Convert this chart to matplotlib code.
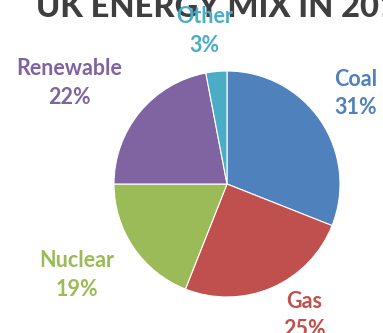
import numpy as np
import matplotlib
matplotlib.use("Agg")
import matplotlib.pyplot as plt

# Dane wykresu
sources = ["Coal", "Gas", "Nuclear", "Renewable", "Other"]
shares = [31, 25, 19, 22, 3]
colors = ["#4F81BD", "#C0504D", "#9BBB59", "#8064A2", "#4BACC6"]
title = "UK ENERGY MIX IN 2014"

# Odległość etykiet od środka (w promieniach) i drobna korekta kąta
label_dist = [1.39, 1.35, 1.55, 1.66, 1.37]
label_shift = [1, 7, -3, 7, 3]

W, H = 383, 333
cx, cy, r = 227, 149, 113  # środek koła w pikselach (od dołu)

fig = plt.figure(figsize=(W / 100, H / 100), dpi=100)
ax = fig.add_axes([0, 0, 1, 1])

wedges, _ = ax.pie(shares, colors=colors, startangle=90, counterclock=False,
                   radius=1, wedgeprops=dict(edgecolor="white", linewidth=0.8))

ax.set_xlim(-cx / r, (W - cx) / r)
ax.set_ylim(-cy / r, (H - cy) / r)
ax.set_aspect("auto")
ax.axis("off")

font = ["Lato", "DejaVu Sans"]

# Tytuł pod etykietami (etykieta "Other" nachodzi na niego)
ax.text((cx - 1) / W, (H - 17) / H, title, transform=fig.transFigure,
        ha="center", va="baseline", fontsize=23.5, fontweight="black",
        family=font, color="#3F3F3F", zorder=1)

for w, name, val, col, d, s in zip(wedges, sources, shares, colors, label_dist, label_shift):
    ang = np.deg2rad((w.theta1 + w.theta2) / 2 + s)
    x, y = d * np.cos(ang), d * np.sin(ang)
    ax.text(x, y, f"{name}\n{val}%", ha="center", va="center", color=col,
            fontsize=15.5, fontweight="bold", family=font, linespacing=1.45,
            zorder=5)

fig.savefig("out.png", dpi=100)
